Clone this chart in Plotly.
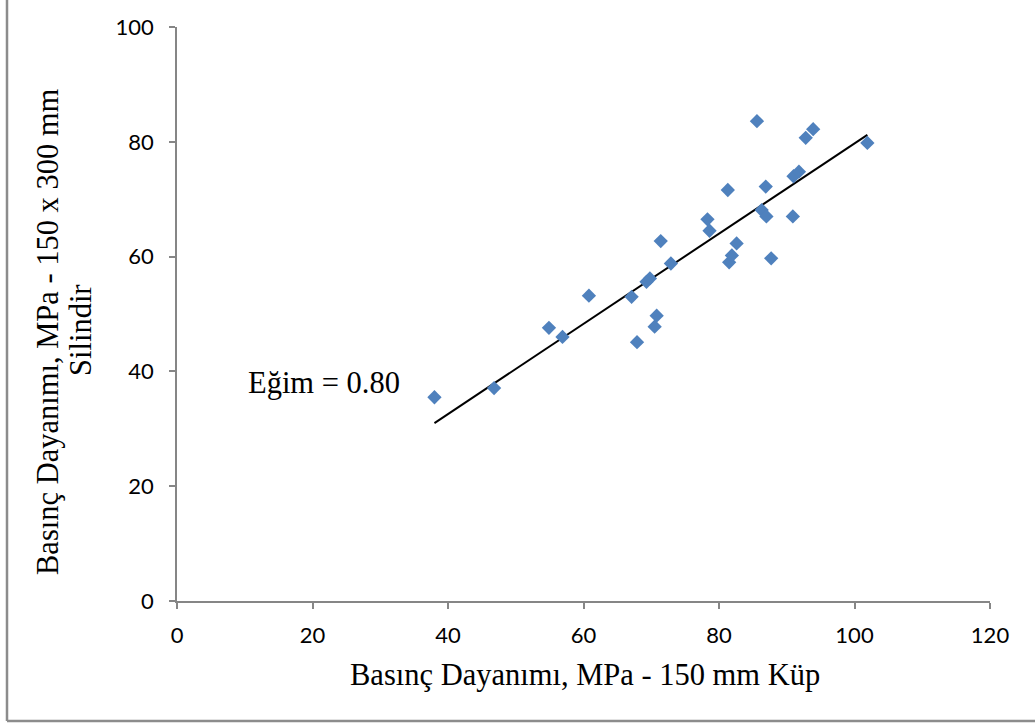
import plotly.graph_objects as go

# Data
cube_strength = [38.0, 46.8, 54.9, 56.9, 60.8, 67.1, 67.9, 69.3, 69.8, 70.5, 70.8, 71.4, 72.9, 78.3, 78.6,
                 81.3, 81.5, 81.9, 82.6, 85.6, 86.3, 86.9, 87.0, 87.7, 90.9, 91.0, 91.8, 92.8, 93.9, 101.9]
cylinder_strength = [35.5, 37.1, 47.6, 46.0, 53.2, 53.0, 45.1, 55.6, 56.2, 47.8, 49.7, 62.7, 58.8, 66.5, 64.5,
                     71.6, 59.0, 60.2, 62.3, 83.6, 68.1, 72.2, 67.0, 59.7, 67.0, 74.0, 74.8, 80.7, 82.2, 79.8]
trend_x = [38.0, 101.9]
trend_y = [31.0, 81.2]

x_ticks = [0, 20, 40, 60, 80, 100, 120]
y_ticks = [0, 20, 40, 60, 80, 100]

W, H = 1035, 723
L, R, T, B = 177, 45, 27, 122
pw, ph = W - L - R, H - T - B

def px(xp):
    return (xp - L) / pw

def py(yp):
    return (H - B - yp) / ph

fig = go.Figure()
fig.add_trace(go.Scatter(x=trend_x, y=trend_y, mode="lines",
                         line=dict(color="black", width=2), hoverinfo="skip"))
fig.add_trace(go.Scatter(x=cube_strength, y=cylinder_strength, mode="markers",
                         marker=dict(symbol="diamond", size=11, color="#4F81BD", line=dict(width=0))))

axis_common = dict(showgrid=False, zeroline=False, showline=True, linecolor="#868686", linewidth=1.5,
                   ticks="outside", ticklen=6, tickwidth=1.5, tickcolor="#868686",
                   tickfont=dict(family="Lato", size=22, color="black"))

fig.update_xaxes(range=[0, 120], tickvals=x_ticks, ticklabelstandoff=8, **axis_common)
fig.update_yaxes(range=[0, 100], tickvals=y_ticks, ticklabelstandoff=11, **axis_common)

serif = dict(family="Liberation Serif", size=30.5, color="black")
fig.add_annotation(text="Basınç Dayanımı, MPa - 150 mm Küp", xref="paper", yref="paper",
                   x=px(585), y=py(675), xanchor="center", yanchor="middle", showarrow=False, font=serif)
fig.add_annotation(text="Basınç Dayanımı, MPa - 150 x 300 mm", xref="paper", yref="paper",
                   x=px(48), y=py(332), xanchor="center", yanchor="middle", showarrow=False,
                   textangle=-90, font=serif)
fig.add_annotation(text="Silindir", xref="paper", yref="paper",
                   x=px(81), y=py(330), xanchor="center", yanchor="middle", showarrow=False,
                   textangle=-90, font=serif)
fig.add_annotation(text="Eğim = 0.80", xref="paper", yref="paper",
                   x=px(324), y=py(383), xanchor="center", yanchor="middle", showarrow=False, font=serif)

# outer chart border (left and bottom visible)
fig.add_shape(type="line", xref="paper", yref="paper", x0=px(7), x1=px(7), y0=py(721), y1=py(-5),
              line=dict(color="#8C8C8C", width=2.5))
fig.add_shape(type="line", xref="paper", yref="paper", x0=px(7), x1=px(1040), y0=py(721), y1=py(721),
              line=dict(color="#8C8C8C", width=2.5))

fig.update_layout(width=W, height=H, margin=dict(l=L, r=R, t=T, b=B),
                  plot_bgcolor="white", paper_bgcolor="white", showlegend=False)

fig.write_html("out.html")
